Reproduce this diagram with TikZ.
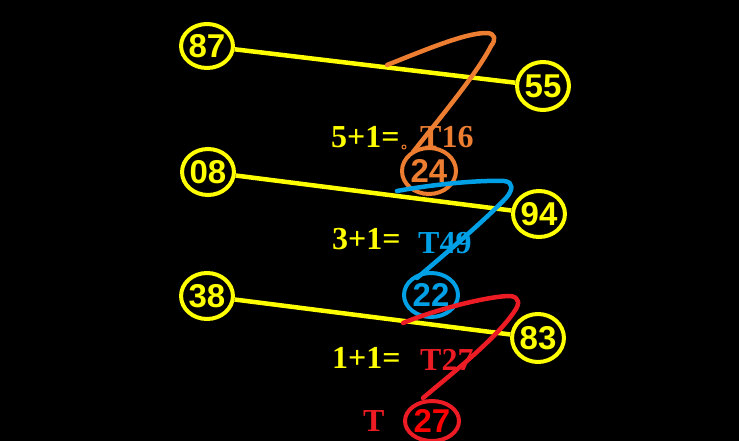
\documentclass[tikz,border=0pt]{standalone}
\usepackage{fontspec}
\setmainfont{Liberation Serif}
\newfontfamily\numfont{Liberation Sans}
\usetikzlibrary{shapes.geometric}
\definecolor{yel}{RGB}{255,255,0}
\definecolor{org}{RGB}{237,125,49}
\definecolor{blu}{RGB}{0,160,230}
\definecolor{redc}{RGB}{237,28,36}
\definecolor{redt}{RGB}{255,0,0}
\tikzset{
  numcirc/.style={ellipse, draw=#1, line width=4pt, inner sep=0pt,
    font=\numfont\bfseries\fontsize{33}{33}\selectfont},
  yline/.style={draw=yel, line width=4.5pt},
  stroke/.style={draw=#1, line width=4.5pt, line cap=round, line join=round},
  eqtext/.style={anchor=base west, inner sep=0pt, text=yel,
    font=\bfseries\fontsize{32}{32}\selectfont},
  ttext/.style={anchor=base west, inner sep=0pt, text=#1,
    font=\bfseries\fontsize{32}{32}\selectfont}
}
\begin{document}
\begin{tikzpicture}[x=1pt,y=-1pt]
\fill[black] (0,0) rectangle (739,441);
\useasboundingbox (0,0) rectangle (739,441);

% yellow circles
\node[numcirc=yel, minimum width=46pt, minimum height=44pt, text=yel] (n87) at (207,46) {87};
\node[numcirc=yel, minimum width=46pt, minimum height=48pt, text=yel] (n55) at (543,86) {55};
\node[numcirc=yel, minimum width=46pt, minimum height=46pt, text=yel] (n08) at (208,172) {08};
\node[numcirc=yel, minimum width=42pt, minimum height=46pt, text=yel] (n94) at (539,214) {94};
\node[numcirc=yel, minimum width=48pt, minimum height=46pt, text=yel] (n38) at (207,296) {38};
\node[numcirc=yel, minimum width=46pt, minimum height=48pt, text=yel] (n83) at (538,338) {83};

% yellow connectors
\draw[yline] (n87) -- (n55);
\draw[yline] (n08) -- (n94);
\draw[yline] (n38) -- (n83);

% coloured result circles
\node[numcirc=org, minimum width=54pt, minimum height=46pt, text=org] (n24) at (429,171) {24};
\node[numcirc=blu, minimum width=54pt, minimum height=44pt, text=blu] (n22) at (431,295) {22};
\node[numcirc=redc, minimum width=54pt, minimum height=40pt, text=redt] (n27) at (432,421) {27};

% texts
\node[eqtext] (e1) at (331,148) {5+1=};
\node[ttext=org] (t16) at (420,148) {T16};
\node[eqtext] (e2) at (332,249) {3+1=};
\node[ttext=blu] (t49) at (418,253) {T49};
\node[eqtext] (e3) at (332,368) {1+1=};
\node[ttext=redc] (t27) at (420,370) {T27};
\node[ttext=redc] (tT) at (363,431) {T};

% small orange dot
\draw[org, line width=1pt] (404,147) circle (2pt);

% freehand strokes
\coordinate (os) at (387,65);
\coordinate (oe) at (413,152);
\draw[stroke=org] (os) .. controls (425,50) and (465,33) .. (486,33)
  .. controls (496,33) and (496,40) .. (491,46)
  .. controls (478,72) and (440,118) .. (oe);

\coordinate (bs) at (397,191);
\coordinate (be) at (417,278);
\draw[stroke=blu] (bs) .. controls (435,184) and (480,180) .. (504,181)
  .. controls (514,182) and (513,190) .. (506,198)
  .. controls (480,225) and (440,258) .. (be);

\coordinate (rs) at (403,323);
\coordinate (re) at (423,398);
\draw[stroke=redc] (rs) .. controls (440,308) and (490,296) .. (510,296)
  .. controls (520,297) and (520,304) .. (514,312)
  .. controls (495,340) and (450,375) .. (re);
\end{tikzpicture}
\end{document}
